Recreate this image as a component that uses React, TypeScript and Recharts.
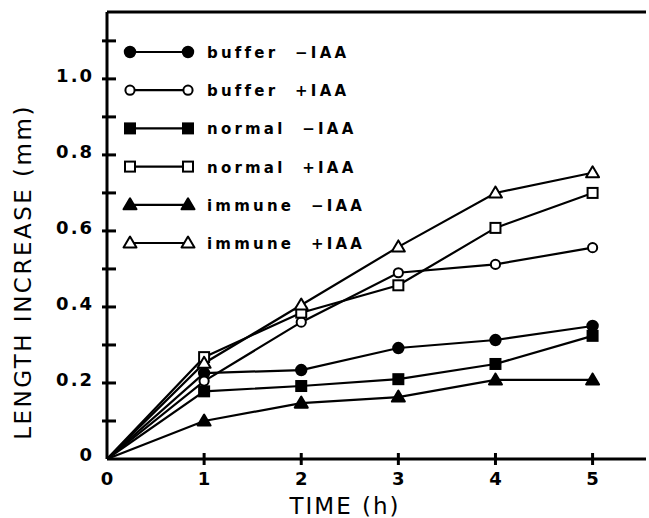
import { LineChart, Line, XAxis, YAxis, ReferenceLine, Legend } from "recharts";

const hours = [0, 1, 2, 3, 4, 5];
const bufferMinusIAA = [0, 0.226, 0.234, 0.292, 0.313, 0.35];
const bufferPlusIAA = [0, 0.205, 0.36, 0.49, 0.512, 0.556];
const normalMinusIAA = [0, 0.178, 0.192, 0.21, 0.25, 0.324];
const normalPlusIAA = [0, 0.268, 0.385, 0.457, 0.608, 0.7];
const immuneMinusIAA = [0, 0.1, 0.147, 0.163, 0.208, 0.208];
const immunePlusIAA = [0, 0.252, 0.405, 0.558, 0.7, 0.753];

const xTicks = [0, 1, 2, 3, 4, 5];
const yTicks = [0, 0.1, 0.2, 0.3, 0.4, 0.5, 0.6, 0.7, 0.8, 0.9, 1.0, 1.1];
const yTickLabels = ["0", "", "0.2", "", "0.4", "", "0.6", "", "0.8", "", "1.0", ""];

const Y_TOP = 1.176;
const X_END = 5.55;
const Y_AXIS_W = 107;
const FONT = "'DejaVu Sans', sans-serif";

type Shape = "circle" | "square" | "triangle";

const series: { key: string; name: string; shape: Shape; filled: boolean; values: number[] }[] = [
  { key: "bufferMinus", name: "buffer  −IAA", shape: "circle", filled: true, values: bufferMinusIAA },
  { key: "bufferPlus", name: "buffer  +IAA", shape: "circle", filled: false, values: bufferPlusIAA },
  { key: "normalMinus", name: "normal  −IAA", shape: "square", filled: true, values: normalMinusIAA },
  { key: "normalPlus", name: "normal  +IAA", shape: "square", filled: false, values: normalPlusIAA },
  { key: "immuneMinus", name: "immune  −IAA", shape: "triangle", filled: true, values: immuneMinusIAA },
  { key: "immunePlus", name: "immune  +IAA", shape: "triangle", filled: false, values: immunePlusIAA }
];

const data = hours.map((h, i) => {
  const row: Record<string, number> = { hour: h };
  series.forEach((s) => {
    row[s.key] = s.values[i];
  });
  return row;
});

function Marker({ cx, cy, shape, filled }: { cx: number; cy: number; shape: Shape; filled: boolean }) {
  const fill = filled ? "#000" : "#fff";
  if (shape === "circle") {
    return <circle cx={cx} cy={cy} r={filled ? 5.2 : 4.6} fill={fill} stroke="#000" strokeWidth={2} />;
  }
  if (shape === "square") {
    return <rect x={cx - 5} y={cy - 5} width={10} height={10} fill={fill} stroke="#000" strokeWidth={2} />;
  }
  return (
    <polygon
      points={`${cx},${cy - 6.5} ${cx - 6.5},${cy + 4.5} ${cx + 6.5},${cy + 4.5}`}
      fill={fill}
      stroke="#000"
      strokeWidth={2}
      strokeLinejoin="round"
    />
  );
}

function YTick(props: any) {
  const { y, index } = props;
  const label = yTickLabels[index];
  const ax = Y_AXIS_W;
  return (
    <g>
      {index > 0 && <line x1={ax - 5} x2={ax + 9} y1={y} y2={y} stroke="#000" strokeWidth={3} />}
      {label && (
        <text
          x={ax - 13}
          y={y}
          dy={index === 0 ? 2 : 3}
          textAnchor="end"
          fontFamily={FONT}
          fontWeight="bold"
          fontSize={18}
          letterSpacing={2}
          fill="#000"
        >
          {label}
        </text>
      )}
    </g>
  );
}

function XTick(props: any) {
  const { x, y, payload } = props;
  return (
    <g>
      {payload.value !== 0 && <line x1={x} x2={x} y1={y - 6} y2={y + 6} stroke="#000" strokeWidth={3} />}
      <text x={x} y={y} dy={26} textAnchor="middle" fontFamily={FONT} fontWeight="bold" fontSize={18} fill="#000">
        {payload.value}
      </text>
    </g>
  );
}

function LegendBox() {
  return (
    <svg width={260} height={240} style={{ display: "block" }}>
      {series.map((s, i) => {
        const cy = 22 + i * 38.2;
        return (
          <g key={s.key}>
            <line x1={10} x2={68} y1={cy} y2={cy} stroke="#000" strokeWidth={2.2} />
            <Marker cx={10} cy={cy} shape={s.shape} filled={s.filled} />
            <Marker cx={68} cy={cy} shape={s.shape} filled={s.filled} />
            <text
              x={87}
              y={cy + 6}
              fontFamily={FONT}
              fontWeight="bold"
              fontSize={15}
              letterSpacing={3.2}
              fill="#000"
              style={{ whiteSpace: "pre" }}
            >
              {s.name}
            </text>
          </g>
        );
      })}
    </svg>
  );
}

export default function App() {
  return (
    <div style={{ position: "absolute", left: 0, top: 0, width: 649, height: 518, background: "#fff" }}>
      <LineChart width={649} height={518} data={data} margin={{ top: 12, right: 3, bottom: 0, left: 0 }}>
        <XAxis
          dataKey="hour"
          type="number"
          domain={[0, X_END]}
          ticks={xTicks}
          tickSize={0}
          tickMargin={0}
          tickLine={false}
          tick={<XTick />}
          axisLine={{ stroke: "#000", strokeWidth: 3 }}
          height={59}
          label={{
            content: () => (
              <text x={345} y={514} textAnchor="middle" fontFamily={FONT} fontSize={23} letterSpacing={2} fill="#000">
                TIME (h)
              </text>
            )
          }}
        />
        <YAxis
          type="number"
          domain={[0, Y_TOP]}
          ticks={yTicks}
          width={Y_AXIS_W}
          tickSize={0}
          tickMargin={0}
          tickLine={false}
          tick={<YTick />}
          axisLine={{ stroke: "#000", strokeWidth: 3 }}
          allowDataOverflow
          label={{
            content: () => (
              <text
                x={23}
                y={272}
                transform="rotate(-90 23 272)"
                textAnchor="middle"
                dominantBaseline="central"
                fontFamily={FONT}
                fontSize={23}
                letterSpacing={2.5}
                fill="#000"
              >
                LENGTH INCREASE (mm)
              </text>
            )
          }}
        />
        <ReferenceLine y={Y_TOP} stroke="#000" strokeWidth={3} ifOverflow="visible" />
        <Legend
          layout="horizontal"
          verticalAlign="middle"
          align="center"
          wrapperStyle={{ top: 30, left: 120, width: 260, height: 240 }}
          content={() => <LegendBox />}
        />
        {series.map((s) => (
          <Line
            key={s.key}
            dataKey={s.key}
            name={s.name}
            type="linear"
            stroke="#000"
            strokeWidth={2.2}
            isAnimationActive={false}
            dot={(p: any) =>
              p.index === 0 ? (
                <g key={`${s.key}-${p.index}`} />
              ) : (
                <Marker key={`${s.key}-${p.index}`} cx={p.cx} cy={p.cy} shape={s.shape} filled={s.filled} />
              )
            }
            activeDot={false}
          />
        ))}
      </LineChart>
    </div>
  );
}
